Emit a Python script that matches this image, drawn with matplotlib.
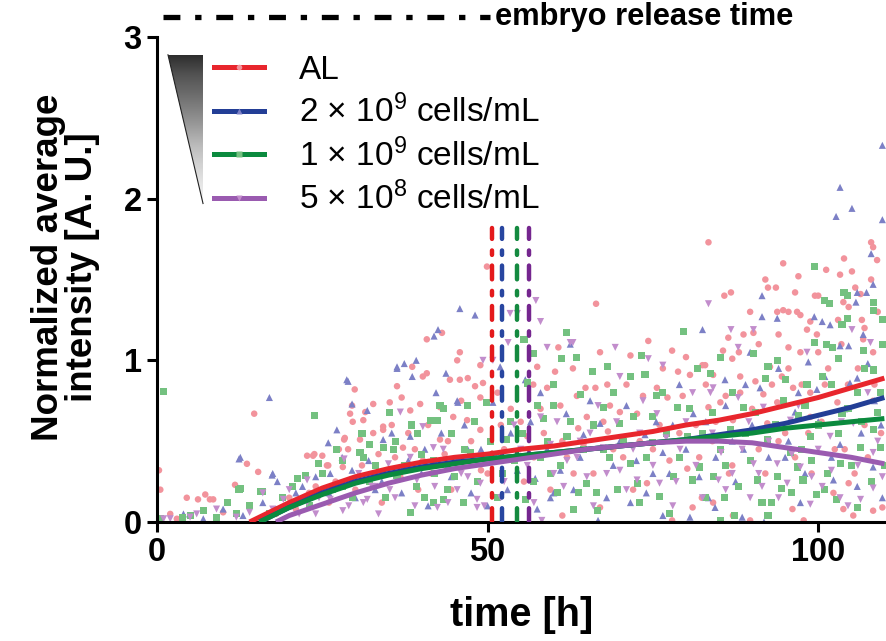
import numpy as np
import matplotlib
matplotlib.use('Agg')
import matplotlib.pyplot as plt
from matplotlib import font_manager
from matplotlib.lines import Line2D
from matplotlib.patches import Polygon

# ---- scatter data as (time [h], normalized intensity) ----
al_pts = [
    (0.3, 0.32), (0.5, 0.2), (2, 0.05), (3, 0.02), (4.5, 0.15), (6.2, 0.14), (7.3, 0.17), (8, 0.14),
    (8.5, 0.14), (10, 0.06), (11.8, 0.23), (13.6, 0.36), (14.7, 0.67), (15.3, 0.31), (18, 0.05),
    (20, 0.15), (22.7, 0.41), (23.6, 0.41), (23.8, 0.42), (24, 0.22), (25, 0.41), (25.7, 0.35),
    (25.9, 0.35), (27, 0.25), (28.1, 0.34), (28.3, 0.51), (28.4, 0.52), (28.9, 0.45), (29.2, 0.67),
    (29.5, 0.72), (29.6, 0.62), (29.9, 0.82), (30.7, 0.51), (31.2, 0.63), (31.5, 0.68), (32.7, 0.73),
    (32.7, 0.55), (33, 0.30), (34.2, 0.57), (34.2, 0.59), (35.2, 0.74), (36, 0.40), (36.3, 0.84),
    (37, 0.77), (37.2, 0.46), (38.3, 0.69), (38.6, 0.96), (39, 0.45), (39.8, 0.73), (40.2, 0.90),
    (40.2, 0.38), (40.8, 1.13), (40.8, 0.92), (42.8, 0.71), (42.8, 0.51), (43.1, 1.17), (44, 0.50),
    (44.3, 0.88), (44.8, 0.65), (45.4, 1.0), (45.8, 1.05), (45.8, 0.88), (46.9, 0.63), (47, 0.89),
    (48.1, 0.84), (48.9, 0.97), (48.9, 0.57), (48.9, 0.77), (49.3, 0.86), (49.9, 1.58), (50, 0.30),
    (52, 0.60), (54, 0.40), (56, 0.53), (56.9, 0.85), (57.5, 0.96), (58, 0.70), (59, 0.83),
    (60.2, 0.93), (60.7, 1.08), (61.3, 0.50), (61.3, 0.04), (62.9, 0.95), (63, 0.30), (63.7, 0.58),
    (64.8, 0.83), (65, 0.65), (66.3, 0.83), (66.4, 1.35), (67, 1.05), (67, 0.09), (68.1, 0.85),
    (68.2, 0.56), (69, 0.45), (70, 0.68), (71.6, 1.03), (72.6, 0.67), (73, 0.50), (74.1, 0.24),
    (74.3, 1.12), (75.6, 0.83), (76, 0.60), (77.2, 0.77), (77.9, 1.06), (77.9, 0.01), (78.8, 0.93),
    (79, 0.55), (80.2, 0.33), (80.6, 0.91), (81, 0.09), (82.4, 0.15), (82.5, 0.97), (82.9, 0.97),
    (83.4, 1.73), (83.4, 0.71), (84, 0.50), (84.1, 0.91), (84.1, 0.12), (85.2, 0.74), (85.6, 1.06),
    (85.8, 1.40), (86.4, 1.14), (86.8, 1.42), (87, 1.01), (87, 0.35), (87.1, 0.63), (87.1, 0.04),
    (88.2, 0.90), (88.2, 0.80), (88.7, 1.16), (89.7, 1.30), (89.7, 0.01), (90.2, 1.17), (90.5, 0.87),
    (91, 0.45), (91.7, 0.79), (92, 1.50), (92.3, 0.61), (92.4, 1.45), (92.7, 0.96), (93.6, 1.45),
    (93.8, 1.30), (93.8, 0.74), (94, 1.16), (94.5, 0.90), (94.7, 1.60), (94.7, 1.31), (95, 0.55),
    (95.5, 1.30), (95.5, 1.08), (96.1, 0.08), (96.2, 0.83), (96.5, 1.42), (96.8, 1.30), (97, 1.52),
    (97.3, 1.28), (97.3, 1.05), (97.8, 0.01), (98.3, 1.19), (98.8, 1.24), (98.8, 0.80), (98.8, 0.65),
    (99, 0.30), (99.5, 1.40), (99.8, 1.16), (100, 1.40), (101, 0.85), (101.2, 1.56), (102.3, 0.18),
    (102.9, 0.74), (103, 1.25), (103.3, 1.53), (103.8, 1.36), (103.8, 0.08), (103.9, 1.63),
    (104, 0.45), (104.6, 1.33), (104.6, 0.24), (105.1, 1.55), (105.3, 0.04), (105.6, 1.45),
    (106.4, 1.41), (106.6, 1.25), (106.8, 1.13), (107, 0.60), (108, 1.73), (108, 1.50), (108.3, 1.70),
    (108.3, 1.05), (108.3, 0.75), (108.3, 0.07), (108.9, 1.62), (109.7, 0.09),
    # dense band, estimated
    (21, 0.08), (23, 0.18), (26, 0.12), (27.5, 0.45), (30, 0.20), (31, 0.35), (33.5, 0.42),
    (34, 0.12), (35.5, 0.60), (36.8, 0.28), (38, 0.55), (39.5, 0.20), (41, 0.60), (41.5, 0.30),
    (43.5, 0.42), (44.5, 0.20), (46, 0.75), (47.5, 0.50), (49, 0.32), (51.5, 0.80), (52.5, 0.45),
    (53.5, 0.70), (55, 0.62), (55.5, 0.25), (57, 0.40), (58.5, 0.55), (59.5, 0.20), (61, 0.72),
    (62, 0.40), (63.5, 0.78), (64.5, 0.48), (66, 0.30), (67.5, 0.62), (68.5, 0.72), (70.5, 0.40),
    (71, 0.85), (72, 0.20), (73.5, 0.78), (75, 0.45), (76.5, 0.95), (77.5, 0.38), (79.5, 0.78),
    (80, 1.02), (81.5, 0.60), (82, 0.40), (83, 0.85), (84.5, 0.62), (86, 0.78), (86.5, 0.30),
    (88, 1.05), (89, 0.55), (90, 0.70), (91, 1.10), (92, 0.30), (93, 0.85), (94, 0.50), (95.5, 0.95),
    (96.5, 0.40), (97.5, 0.85), (98.5, 0.55), (100, 1.05), (100.5, 0.62), (101.5, 0.95),
    (102.5, 0.45), (103.5, 1.10), (104.5, 0.85), (105.5, 0.30), (106, 0.95), (107, 1.20),
    (107.5, 0.40), (108.5, 0.85), (109.5, 0.55), (109, 1.30),
]
d2e9_pts = [
    (4, 0.05), (7, 0.02), (10, 0.08), (12.4, 0.39), (12.6, 0.40), (13, 0.04), (16, 0.12), (17, 0.77),
    (17.4, 0.29), (17.5, 0.30), (18.2, 0.25), (21, 0.18), (24, 0.28), (25.9, 0.49), (26.2, 0.30),
    (27.2, 0.57), (28.7, 0.88), (28.9, 0.87), (29.5, 0.73), (29.5, 0.32), (31.8, 0.69), (33, 0.20),
    (34.2, 0.51), (36.3, 0.96), (36.3, 0.95), (37.4, 0.98), (38.3, 0.53), (38.6, 0.90), (39.2, 1.0),
    (40, 0.30), (41.9, 1.15), (42.2, 0.80), (42.5, 1.19), (43.7, 0.92), (44, 0.35), (45.4, 0.75),
    (45.5, 0.74), (45.8, 1.32), (47, 0.45), (48.1, 1.28), (50.8, 0.74), (51.9, 0.96), (53, 0.20),
    (55.7, 0.88), (57.2, 0.27), (58, 0.80), (59.5, 0.15), (60, 0.18), (61.9, 0.67), (62.5, 1.10),
    (64.5, 0.54), (66.7, 0.01), (67, 0.61), (69, 0.35), (71.6, 0.12), (73.8, 0.54), (75, 0.30),
    (76.5, 0.43), (76.5, 0.04), (78, 0.60), (80.6, 0.03), (81.1, 0.67), (82.5, 1.19), (83.4, 0.15),
    (84.4, 0.09), (85.9, 0.88), (87, 0.50), (88.5, 0.03), (88.7, 0.45), (89.7, 1.05), (91.2, 0.83),
    (91.5, 1.40), (91.5, 1.27), (91.8, 0.0), (93.8, 1.26), (95, 0.40), (96.5, 0.68), (97.3, 0.12),
    (98.5, 0.99), (99.4, 1.27), (99.8, 0.82), (100.6, 1.24), (101.8, 1.22), (102.3, 0.26),
    (102.7, 1.89), (103.3, 2.07), (103.3, 1.09), (103.3, 0.48), (104.6, 1.09), (104.8, 0.86),
    (105.1, 1.94), (105.7, 1.36), (105.9, 1.42), (105.9, 0.89), (105.9, 0.22), (106.8, 1.16),
    (107.3, 1.42), (108, 1.66), (108.3, 1.47), (108.3, 0.34), (109.7, 2.33), (109.7, 1.87),
    (109.7, 0.15),
    # dense band, estimated
    (20, 0.10), (22, 0.22), (26, 0.18), (28, 0.40), (30, 0.15), (32, 0.38), (34, 0.25), (35.5, 0.55),
    (37, 0.18), (38, 0.38), (40.5, 0.45), (41, 0.10), (43, 0.55), (44.5, 0.28), (46.5, 0.60),
    (47.5, 0.18), (49, 0.45), (50, 0.10), (53.5, 0.55), (54.5, 0.32), (56.5, 0.62), (57.5, 0.08),
    (59, 0.45), (61, 0.32), (63, 0.20), (64, 0.40), (65.5, 0.75), (68, 0.15), (70, 0.50), (71, 0.72),
    (72.5, 0.38), (74, 0.18), (75.5, 0.62), (77.5, 0.30), (79, 0.85), (80, 0.45), (82, 0.28),
    (83, 0.62), (84.5, 0.40), (86, 0.72), (87.5, 0.25), (89, 0.85), (90, 0.60), (92.5, 0.40),
    (94, 0.95), (95.5, 0.50), (97, 0.80), (98, 0.30), (100, 0.62), (101, 0.90), (102, 0.40),
    (104, 0.70), (106.5, 0.55), (107.5, 0.98), (108.5, 0.75), (109.5, 0.60),
]
d1e9_pts = [
    (0.5, 0.02), (1, 0.81), (3.9, 0.03), (5, 0.04), (7, 0.07), (9, 0.03), (10.6, 0.12), (12, 0.05),
    (12.4, 0.20), (12.6, 0.21), (14, 0.10), (15.6, 0.19), (15.9, 0.19), (18, 0.08), (21.3, 0.27),
    (22.4, 0.29), (23.8, 0.66), (24.4, 0.36), (27.2, 0.45), (28.1, 0.22), (30.7, 0.43), (31.2, 0.40),
    (32.2, 0.48), (32.2, 0.25), (34.2, 0.46), (35.1, 0.68), (35.7, 0.45), (36.3, 0.29), (38.3, 0.06),
    (39.3, 0.22), (39.4, 0.55), (41.3, 0.63), (41.8, 0.12), (41.8, 0.38), (42.4, 0.63), (42.8, 0.72),
    (43.3, 0.70), (43.3, 0.14), (43.9, 0.20), (46.3, 0.12), (47, 0.72), (47.4, 0.43), (49.9, 0.74),
    (52.3, 0.30), (52.9, 0.51), (55.5, 1.13), (55.7, 0.14), (56, 0.86), (56.9, 1.04), (58, 0.40),
    (58.4, 0.64), (59.5, 0.30), (59.9, 0.72), (60.5, 0.18), (61.2, 1.01), (61.9, 1.17), (62, 0.53),
    (63.5, 1.02), (63.7, 0.18), (64, 0.79), (65, 0.24), (65.8, 0.93), (66.6, 0.07), (67.5, 0.71),
    (67.5, 0.45), (68.1, 0.96), (69.6, 0.20), (70, 0.61), (71.6, 0.90), (71.6, 0.36), (72.6, 0.24),
    (73.3, 1.03), (73.8, 0.91), (75, 0.65), (75, 0.49), (76, 0.16), (76.5, 0.80), (78.1, 0.28),
    (78.7, 0.71), (79.6, 1.18), (80.2, 0.53), (81, 0.26), (81.7, 0.95), (82, 0.34), (83.7, 0.92),
    (84.1, 0.28), (85.2, 1.02), (85.2, 0.45), (85.2, 0.01), (85.8, 0.15), (86.7, 0.57), (87.4, 0.04),
    (88.7, 0.71), (89.7, 0.38), (90.2, 1.04), (90.8, 0.26), (92, 0.89), (92.3, 0.51), (92.4, 0.96),
    (92.4, 0.04), (93, 0.12), (93.8, 1.0), (93.8, 0.28), (94.5, 0.21), (94.7, 0.75), (95.8, 0.43),
    (96.8, 0.34), (97, 0.66), (97.7, 0.26), (98.3, 0.85), (98.8, 0.53), (99.4, 1.58), (99.5, 1.11),
    (99.8, 0.17), (100.6, 0.90), (101, 1.37), (101.2, 1.10), (101.4, 0.30), (101.7, 1.35),
    (102.1, 1.08), (102.7, 0.14), (103, 1.01), (103.3, 0.36), (103.6, 1.22), (103.6, 0.67),
    (103.9, 1.42), (104.4, 1.40), (104.4, 1.26), (105.9, 0.80), (106, 0.09), (106.4, 0.46),
    (106.8, 1.06), (108.3, 1.36), (108.3, 1.31), (108.3, 0.94), (108.3, 0.57), (109.4, 0.80),
    (109.4, 0.46), (109.7, 1.10),
    # dense band, estimated
    (17, 0.05), (19, 0.15), (20.5, 0.22), (23, 0.10), (25, 0.30), (26.5, 0.20), (28, 0.38),
    (29.5, 0.15), (31, 0.55), (33, 0.35), (34.5, 0.15), (36, 0.50), (37.5, 0.35), (38.5, 0.60),
    (40, 0.42), (40.5, 0.15), (42, 0.30), (44.5, 0.55), (45, 0.28), (46.5, 0.45), (48, 0.62),
    (48.5, 0.25), (50.5, 0.50), (51.5, 0.15), (53.5, 0.62), (54, 0.38), (55.2, 0.55), (57, 0.25),
    (57.5, 0.72), (59, 0.50), (60, 0.85), (61, 0.35), (62.5, 0.62), (63, 0.08), (64.5, 0.45),
    (66, 0.60), (66.5, 0.18), (68.5, 0.40), (69, 0.80), (70.5, 0.50), (72, 0.65), (73, 0.12),
    (74, 0.40), (75.5, 0.78), (77, 0.55), (77.5, 0.05), (79, 0.40), (80.5, 0.70), (82.5, 0.55),
    (83, 0.15), (84, 0.68), (86, 0.35), (87, 0.80), (88, 0.22), (89, 0.55), (90.5, 0.68),
    (91.5, 0.12), (93.5, 0.60), (95, 0.88), (96, 0.18), (97.5, 0.45), (98, 0.72), (99, 0.38),
    (100, 0.60), (101, 0.20), (102, 0.85), (103, 0.55), (104.5, 0.70), (105, 0.35), (106.5, 0.62),
    (107, 0.95), (108, 0.25), (109, 0.68), (110, 0.35), (109.8, 1.25),
]
d5e8_pts = [
    (1, 0.02), (2, 0.02), (5, 0.03), (6, 0.05), (9, 0.08), (12, 0.03), (14, 0.06), (16, 0.18),
    (19.1, 0.14), (22.7, 0.12), (22.7, 0.26), (24, 0.05), (26.2, 0.14), (28.1, 0.07), (28.3, 0.39),
    (29.2, 0.25), (31.2, 0.12), (31.8, 0.14), (33, 0.22), (34.2, 0.30), (35, 0.36), (35.2, 0.20),
    (36.8, 0.68), (38.3, 0.40), (39.3, 0.26), (40.2, 0.59), (41.8, 0.46), (42.4, 0.09), (43.3, 0.45),
    (45.4, 0.20), (46, 0.30), (48.4, 0.14), (48.4, 0.09), (48.9, 0.24), (49.3, 1.0), (50.8, 1.0),
    (52, 0.15), (53.1, 1.11), (53.4, 1.29), (54.5, 1.29), (55, 0.45), (57.3, 1.37), (58, 1.24),
    (58, 0.65), (58.2, 0.01), (59, 1.08), (60, 0.30), (62, 0.38), (62.5, 1.11), (62.9, 1.11),
    (64, 0.50), (65, 0.28), (66.7, 0.72), (67.5, 0.46), (69.3, 1.08), (70, 0.90), (70, 0.32),
    (72.6, 0.26), (73, 0.55), (74.3, 1.01), (75.6, 0.67), (76, 0.24), (76.5, 0.97), (78, 0.10),
    (79.1, 0.45), (81, 0.80), (83.4, 1.35), (83.7, 0.80), (84.1, 0.83), (84.9, 0.26),
    (85.3, 0.43), (86.8, 1.19), (87, 0.30), (87.9, 1.08), (87.9, 0.77), (89.7, 0.15), (90.2, 1.19),
    (90.2, 0.36), (91.5, 0.22), (91.7, 0.71), (93.8, 0.36), (95.3, 0.24), (95.8, 0.63), (97.3, 0.34),
    (98.3, 1.05), (98.8, 0.11), (100.6, 0.22), (101.8, 0.53), (103.3, 0.15), (105.1, 1.19),
    (105.3, 0.61), (106.4, 0.14), (107.9, 1.11), (108.3, 0.43), (108.3, 0.21), (109.7, 0.28),
    # dense band, estimated
    (17.5, 0.08), (20, 0.20), (21.5, 0.05), (24.5, 0.15), (27, 0.22), (29, 0.10), (30.5, 0.30),
    (32.5, 0.22), (33.5, 0.05), (36, 0.15), (37.5, 0.32), (39, 0.10), (40.5, 0.35), (42, 0.22),
    (44, 0.12), (45.5, 0.38), (47, 0.28), (49.5, 0.10), (51, 0.40), (52.5, 0.25), (54, 0.60),
    (56, 0.35), (57, 0.12), (59.5, 0.48), (60.5, 0.62), (61.5, 0.22), (63.5, 0.40), (65.5, 0.55),
    (66, 0.10), (68, 0.30), (69.5, 0.62), (71, 0.20), (72, 0.45), (73.5, 0.75), (75, 0.35),
    (77, 0.52), (78.5, 0.25), (80, 0.62), (81.5, 0.35), (82.5, 0.15), (84, 0.55), (86, 0.20),
    (88.5, 0.45), (89.5, 0.62), (91, 0.30), (92.5, 0.50), (94, 0.15), (96, 0.42), (97, 0.72),
    (99, 0.28), (100, 0.45), (102, 0.32), (103.5, 0.62), (104.5, 0.10), (106, 0.35), (107.5, 0.80),
    (109, 0.50),
]

# ---- fitted trend curves ----
fit_al_t = [14, 20, 25, 30, 35, 40, 45, 50, 55, 60, 65, 70, 75, 80, 85, 90, 95, 100, 105, 110]
fit_al_y = [0, 0.12, 0.21, 0.28, 0.33, 0.37, 0.40, 0.42, 0.45, 0.47, 0.50, 0.53, 0.56, 0.60, 0.63,
            0.67, 0.72, 0.77, 0.83, 0.89]
fit_2e9_t = [15.5, 20, 25, 30, 35, 40, 45, 50, 55, 60, 65, 70, 75, 80, 85, 90, 95, 100, 105, 110]
fit_2e9_y = [0, 0.09, 0.18, 0.25, 0.30, 0.34, 0.37, 0.39, 0.41, 0.43, 0.45, 0.47, 0.49, 0.51, 0.54,
             0.57, 0.61, 0.66, 0.71, 0.77]
fit_1e9_t = [15.5, 20, 25, 30, 35, 40, 45, 50, 55, 60, 65, 70, 75, 80, 85, 90, 95, 100, 105, 110]
fit_1e9_y = [0, 0.09, 0.17, 0.24, 0.29, 0.33, 0.36, 0.39, 0.41, 0.43, 0.45, 0.47, 0.49, 0.51, 0.53,
             0.55, 0.58, 0.60, 0.62, 0.64]
fit_5e8_t = [18, 20, 25, 30, 35, 40, 45, 50, 55, 60, 65, 70, 75, 80, 85, 90, 95, 100, 105, 110]
fit_5e8_y = [0, 0.04, 0.11, 0.18, 0.24, 0.29, 0.33, 0.36, 0.39, 0.42, 0.45, 0.47, 0.49, 0.50, 0.50,
             0.49, 0.46, 0.43, 0.40, 0.36]

# embryo release times [h] and marker height
release_t = [50.7, 52.2, 54.5, 56.3]
release_top = 1.82

labels = ['AL', '2 × 10$^{9}$ cells/mL', '1 × 10$^{9}$ cells/mL', '5 × 10$^{8}$ cells/mL']
line_colors = ['#e8262d', '#233e96', '#0b8a3e', '#9a5bb0']
dot_colors = ['#f2939c', '#7c80c6', '#74c180', '#c28dcc']
vline_colors = ['#e41a1c', '#2846a0', '#148a40', '#75268f']
markers = ['o', '^', 's', 'v']

names = {f.name for f in font_manager.fontManager.ttflist}
if 'Liberation Sans Narrow' in names:
    bold_font, k = 'Liberation Sans Narrow', 1.0
else:
    bold_font, k = 'Liberation Sans', 0.84

plt.rcParams['font.family'] = 'Liberation Sans'
plt.rcParams['mathtext.default'] = 'regular'

fig = plt.figure(figsize=(8.87, 6.41), dpi=100)
ax = fig.add_axes([157 / 887, 1 - 522 / 641, 730 / 887, 485 / 641])

series = [al_pts, d2e9_pts, d1e9_pts, d5e8_pts]
for pts, c, m in zip(series, dot_colors, markers):
    t = [p[0] for p in pts]
    y = [p[1] for p in pts]
    ax.scatter(t, y, s=22 if m == 'o' else 26, marker=m, color=c, edgecolors='none', zorder=2)

fits = [(fit_al_t, fit_al_y), (fit_2e9_t, fit_2e9_y), (fit_1e9_t, fit_1e9_y), (fit_5e8_t, fit_5e8_y)]
for (t, y), c in zip(fits, line_colors):
    ax.plot(t, y, color=c, lw=3.6, solid_capstyle='butt', zorder=4)

for xt, c in zip(release_t, vline_colors):
    ax.plot([xt, xt], [0, release_top], color=c, lw=3.2, dashes=(3.1, 2.4, 1, 2.6),
            dash_capstyle='round', zorder=3)

ax.set_xticks([0, 50, 100])
ax.set_yticks([0, 1, 2, 3])
for s in ['top', 'right']:
    ax.spines[s].set_visible(False)
for s in ['left', 'bottom']:
    ax.spines[s].set_linewidth(2.2)
ax.tick_params(width=2.2, length=7, pad=4)
for lab in ax.get_xticklabels() + ax.get_yticklabels():
    lab.set_fontfamily(bold_font)
    lab.set_fontweight('bold')
    lab.set_fontsize(28 * k)
ax.set_xlabel('time [h]', fontfamily=bold_font, fontweight='bold', fontsize=34 * k)
ax.xaxis.set_label_coords(0.5, -(596 - 522) / 485)
ax.set_ylabel('Normalized average\nintensity [A. U.]', fontfamily=bold_font, fontweight='bold',
              fontsize=31.5 * k, linespacing=0.95)
ax.yaxis.set_label_coords(-(157 - 100) / 730, (522 - 267) / 485)

# gradient wedge next to the legend
wedge = Polygon([[1.66, 2.89], [6.96, 2.89], [6.96, 1.97]], closed=True, transform=ax.transData,
                facecolor='none', edgecolor='none')
ax.add_patch(wedge)
grad = np.linspace(0.85, 0.08, 200).reshape(-1, 1)
im = ax.imshow(grad, extent=[1.66, 6.96, 1.97, 2.89], cmap='Greys', vmin=0, vmax=1,
               aspect='auto', zorder=5)
im.set_clip_path(wedge)
ax.plot([1.66, 6.96], [2.89, 1.97], color='#222222', lw=0.8, zorder=6)
ax.set_xlim(0, 110.4)
ax.set_ylim(0, 3)

handles = [Line2D([], [], color=lc, lw=3.6, marker=m, markersize=4, markerfacecolor=dc,
                  markeredgecolor='none')
           for lc, dc, m in zip(line_colors, dot_colors, markers)]
ax.legend(handles, labels, loc='upper left', bbox_to_anchor=(214 / 887, 1 - 55 / 641),
          bbox_transform=fig.transFigure, frameon=False, fontsize=24, handlelength=1.5,
          handletextpad=1.05, labelspacing=0.27, borderpad=0, borderaxespad=0, numpoints=1)

# top legend entry for the embryo release lines
fig.add_artist(Line2D([163 / 887, 490 / 887], [1 - 17 / 641, 1 - 17 / 641], color='black',
                      lw=3.8, dashes=(3.2, 2.8, 1.2, 2.8), transform=fig.transFigure))
fig.text(495 / 887, 1 - 17 / 641, 'embryo release time', fontfamily=bold_font, fontweight='bold',
         fontsize=26.5 * k, va='center', ha='left')

fig.savefig('out.png', dpi=100)
